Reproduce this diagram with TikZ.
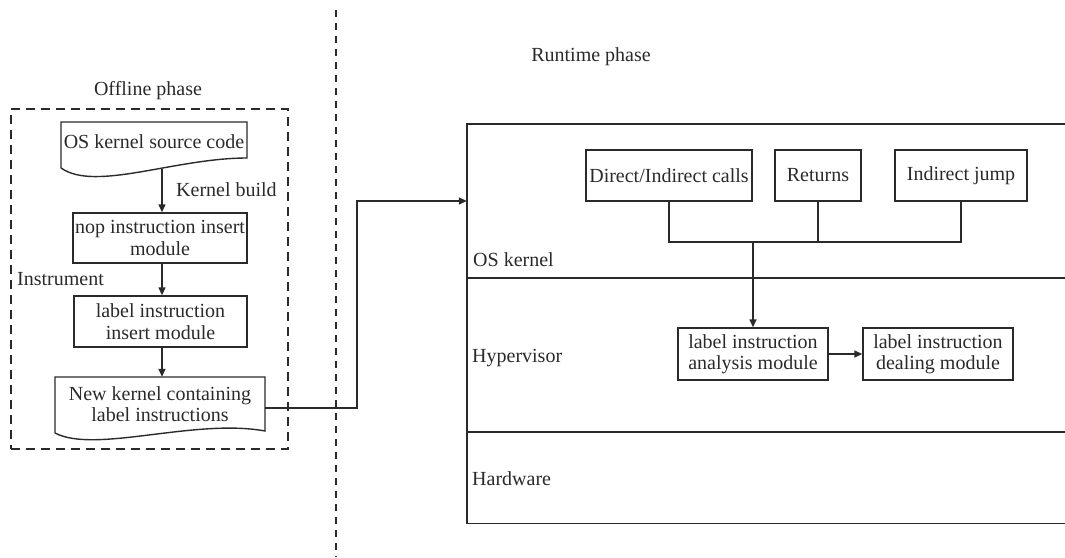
\documentclass[tikz,border=0pt]{standalone}
\usepackage{fontspec}
\setmainfont{Liberation Serif}
\usetikzlibrary{arrows.meta,calc}
\definecolor{ink}{HTML}{2A2A2A}
\begin{document}
\begin{tikzpicture}[x=1pt,y=-1pt,
  every node/.style={font=\fontsize{20}{21.5}\selectfont, text=ink},
  mbox/.style={draw=ink, line width=1.4pt, rectangle, inner sep=1pt, align=center},
  plain/.style={inner sep=0pt, align=center},
  wire/.style={draw=ink, line width=1.4pt},
  layerline/.style={draw=ink, line width=1.9pt},
  arr/.style={draw=ink, line width=1.4pt, -{Triangle[length=8pt,width=7pt]}},
  dashbox/.style={draw=ink, line width=1.4pt, dash pattern=on 9pt off 6pt},
  divider/.style={draw=ink, line width=1.4pt, dash pattern=on 7pt off 6pt},
  layer/.style={rectangle, draw=none, minimum width=603pt, inner sep=0pt},
  docn/.style={rectangle, draw=none, inner sep=0pt, align=center}
]
\useasboundingbox (0,0) rectangle (1065,557);

% ---------- divider ----------
\coordinate (dtop) at (336,10);
\coordinate (dbot) at (336,557);
\draw[divider] (dtop) -- (dbot);

% ---------- offline phase ----------
\node[plain] (offt) at (148,91) {Offline phase};
\node[dashbox, minimum width=277pt, minimum height=340pt, inner sep=0pt] (offline) at (149.5,279) {};

\node[docn, minimum width=186pt, minimum height=40pt] (doc1) at (154,142) {OS kernel source code};
\draw[wire] (61,168) -- (61,122) -- (247,122) -- (247,158)
  .. controls (175,158) and (95,192) .. (61,168);
\coordinate (doc1b) at (162,169);

\node[mbox, minimum width=174pt, minimum height=50pt] (box2) at (160,238) {nop instruction insert\\module};
\node[mbox, minimum width=173pt, minimum height=51pt] (box3) at (160.5,321.5) {label instruction\\insert module};

\node[docn, minimum width=210pt, minimum height=54pt] (doc4) at (160,404) {New kernel containing\\label instructions};
\draw[wire] (55,433) -- (55,377) -- (265,377) -- (265,431)
  .. controls (195,418) and (95,454) .. (55,433);

\draw[arr] (doc1b) -- (doc1b |- box2.north);
\draw[arr] (box2.south -| doc1b) -- (box3.north -| doc1b);
\draw[arr] (box3.south -| doc1b) -- (doc4.north -| doc1b);

\node[plain, anchor=west] (kb) at (176,190) {Kernel build};
\node[plain, anchor=west] (instr) at (17,279) {Instrument};

% ---------- runtime phase ----------
\node[plain] (runt) at (591,57) {Runtime phase};

\node[layer, minimum height=154pt] (os) at (768.5,201) {};
\node[layer, minimum height=154pt] (hyp) at (768.5,355) {};
\node[layer, minimum height=91pt] (hw) at (768.5,477.5) {};

\draw[wire] (os.north east) -- (os.north west) -- (hw.south west) -- (hw.south east);
\draw[layerline] (os.south west) -- (os.south east);
\draw[layerline] (hyp.south west) -- (hyp.south east);

\node[plain, anchor=base west] (oslab) at (473,266) {OS kernel};
\node[plain, anchor=base west] (hyplab) at (472,362) {Hypervisor};
\node[plain, anchor=base west] (hwlab) at (472,485) {Hardware};

\node[mbox, minimum width=166pt, minimum height=51pt] (direct) at (669,175.5) {Direct/Indirect calls};
\node[mbox, minimum width=86pt, minimum height=51pt] (returns) at (818,175.5) {Returns};
\node[mbox, minimum width=132pt, minimum height=51pt] (ijump) at (961,175.5) {Indirect jump};

\node[mbox, minimum width=150pt, minimum height=52pt] (analysis) at (753,354) {label instruction\\analysis module};
\node[mbox, minimum width=150pt, minimum height=52pt] (dealing) at (938,354) {label instruction\\dealing module};

\coordinate (jn) at (753,242);
\draw[wire] (direct.south) -- (direct.south |- jn) -- (ijump.south |- jn) -- (ijump.south);
\draw[wire] (returns.south) -- (returns.south |- jn);
\draw[arr] (jn) -- (analysis.north);
\draw[arr] (analysis.east) -- (dealing.west);

% ---------- cross connector ----------
\coordinate (doc4e) at (265,408);
\draw[arr] (doc4e) -- ++(92,0) |- (os.west);
\end{tikzpicture}
\end{document}
